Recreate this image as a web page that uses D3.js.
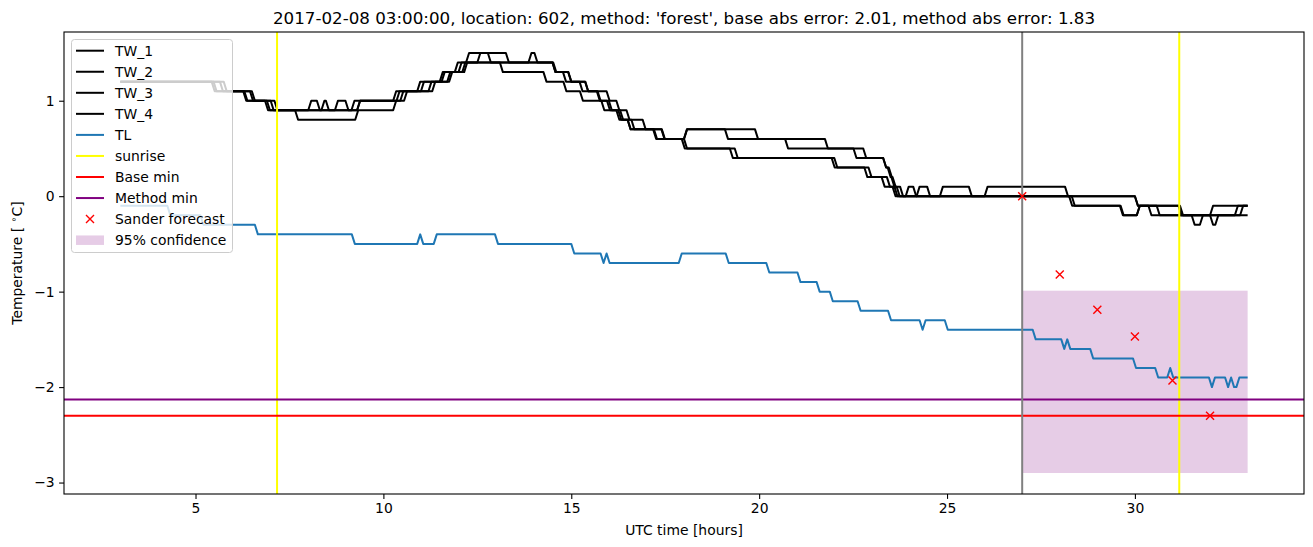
<!DOCTYPE html>
<html><head><meta charset="utf-8">
<script src="https://cdn.jsdelivr.net/npm/d3@7"></script>
<style>body{margin:0;background:#fff;} svg{display:block;font-family:"DejaVu Sans",sans-serif;}</style>
</head><body><svg id="c" width="1313" height="547"></svg>
<script>
// ---- data ----
const titleText = "2017-02-08 03:00:00, location: 602, method: 'forest', base abs error: 2.01, method abs error: 1.83";
const xTicks = [5, 10, 15, 20, 25, 30];
const yTicks = [-3, -2, -1, 0, 1];
// step runs: [start hour, end hour, value]
const tw1Steps = [[3.0,5.43,1.2],[5.51,6.27,1.1],[6.35,6.85,1.0],[6.93,8.0,0.9],[8.08,8.23,1.0],[8.31,9.15,0.9],[9.23,10.26,1.0],[10.34,10.9,1.1],[10.98,11.5,1.2],[11.58,11.9,1.3],[11.98,12.2,1.4],[12.28,12.78,1.5],[12.86,13.86,1.4],[13.94,14.02,1.5],[14.1,14.5,1.4],[14.58,14.78,1.3],[14.86,15.22,1.2],[15.3,15.68,1.1],[15.76,15.95,1.0],[16.03,16.2,0.9],[16.28,16.5,0.8],[16.58,17.18,0.7],[17.26,18.0,0.6],[18.08,19.89,0.7],[19.97,21.75,0.6],[21.83,22.77,0.5],[22.85,23.3,0.4],[23.38,23.42,0.3],[23.5,23.52,0.2],[23.6,23.75,0.1],[23.83,26.0,0.0],[26.08,28.14,0.1],[28.22,30.0,0.0],[30.08,30.58,-0.1],[30.66,31.51,-0.2],[31.59,31.73,-0.3],[31.81,32.66,-0.2],[32.74,33.0,-0.1]];
const tw2Steps = [[3.0,5.48,1.2],[5.56,6.3,1.1],[6.38,6.9,1.0],[6.98,8.35,0.9],[8.43,8.47,1.0],[8.55,8.71,0.9],[8.79,8.99,1.0],[9.07,9.3,0.9],[9.38,10.35,1.0],[10.43,11.0,1.1],[11.08,11.55,1.2],[11.63,12.0,1.3],[12.08,12.5,1.4],[12.58,13.26,1.5],[13.34,14.52,1.4],[14.6,14.92,1.3],[15.0,15.37,1.2],[15.45,15.7,1.1],[15.78,16.0,1.0],[16.08,16.3,0.9],[16.38,16.6,0.8],[16.68,17.4,0.7],[17.48,18.0,0.6],[18.08,19.09,0.7],[19.17,20.69,0.6],[20.77,22.51,0.5],[22.59,23.3,0.4],[23.38,23.45,0.3],[23.53,23.55,0.2],[23.63,23.66,0.1],[23.74,24.81,0.0],[24.89,25.58,0.1],[25.66,28.25,0.0],[28.33,29.6,-0.1],[29.68,30.05,-0.2],[30.13,31.16,-0.1],[31.24,32.0,-0.2],[32.08,33.0,-0.1]];
const tw3Steps = [[3.0,5.65,1.2],[5.73,6.45,1.1],[6.53,7.0,1.0],[7.08,9.3,0.9],[9.38,10.45,1.0],[10.53,11.2,1.1],[11.28,11.7,1.2],[11.78,12.1,1.3],[12.18,13.1,1.4],[13.18,14.26,1.3],[14.34,14.79,1.2],[14.87,15.23,1.1],[15.31,15.8,1.0],[15.88,16.25,0.9],[16.33,16.5,0.8],[16.58,17.2,0.7],[17.28,17.94,0.6],[18.02,19.22,0.5],[19.3,21.93,0.4],[22.01,22.8,0.3],[22.88,23.26,0.2],[23.34,23.55,0.1],[23.63,23.9,0.0],[23.98,24.1,0.1],[24.18,28.32,0.0],[28.4,29.62,-0.1],[29.7,30.05,-0.2],[30.13,30.36,-0.1],[30.44,32.0,-0.2],[32.08,32.14,-0.3],[32.22,32.8,-0.2],[32.88,33.0,-0.1]];
const tw4Steps = [[3.0,5.75,1.2],[5.83,6.5,1.1],[6.58,7.1,1.0],[7.18,7.65,0.9],[7.73,9.25,0.8],[9.33,10.26,0.9],[10.34,10.55,1.0],[10.63,11.3,1.1],[11.38,11.75,1.2],[11.83,12.15,1.3],[12.23,14.5,1.4],[14.58,14.92,1.3],[15.0,15.37,1.2],[15.45,15.94,1.1],[16.02,16.2,1.0],[16.28,16.47,0.9],[16.55,16.9,0.8],[16.98,17.41,0.7],[17.49,18.0,0.6],[18.08,19.35,0.5],[19.43,22.0,0.4],[22.08,22.91,0.3],[22.99,23.4,0.2],[23.48,23.6,0.1],[23.68,24.19,0.0],[24.27,24.47,0.1],[24.55,30.0,0.0],[30.08,31.2,-0.1],[31.28,33.0,-0.2]];
const tlSteps = [[3.0,4.25,-0.1],[4.33,5.13,-0.2],[5.21,6.58,-0.3],[6.66,9.16,-0.4],[9.24,10.9,-0.5],[10.98,10.98,-0.4],[11.06,11.34,-0.5],[11.42,12.97,-0.4],[13.05,15.0,-0.5],[15.08,15.78,-0.6],[15.86,15.86,-0.7],[15.94,15.94,-0.6],[16.02,17.86,-0.7],[17.94,19.11,-0.6],[19.19,20.19,-0.7],[20.27,21.02,-0.8],[21.1,21.53,-0.9],[21.61,21.88,-1.0],[21.96,22.62,-1.1],[22.7,23.43,-1.2],[23.51,24.27,-1.3],[24.35,24.35,-1.4],[24.43,24.94,-1.3],[25.02,27.28,-1.4],[27.36,28.04,-1.5],[28.12,28.12,-1.6],[28.2,28.2,-1.5],[28.28,28.81,-1.6],[28.89,29.95,-1.7],[30.03,30.54,-1.8],[30.62,30.86,-1.9],[30.94,30.94,-1.8],[31.02,31.97,-1.9],[32.05,32.05,-2.0],[32.13,32.4,-1.9],[32.48,32.48,-2.0],[32.56,32.56,-1.9],[32.64,32.7,-2.0],[32.78,33.0,-1.9]];
const sunriseHours = [7.17, 31.18];
const forecastStart = 27.0;
const baseMin = -2.30;
const methodMin = -2.13;
const forecastHours = [27, 28, 29, 30, 31, 32];
const forecastValues = [0.0, -0.82, -1.19, -1.47, -1.93, -2.30];
const confidence = {x0: 27.0, x1: 33.0, lo: -2.9, hi: -0.99};
const legendLabels = ["TW_1","TW_2","TW_3","TW_4","TL","sunrise","Base min","Method min","Sander forecast","95% confidence"];

// ---- layout ----
const L = 64, R = 1304, T = 32, B = 494;
const x = d3.scaleLinear().domain([1.5, 34.5]).range([L, R]);
const y = d3.scaleLinear().domain([-3.12, 1.72]).range([B, T]);
const svg = d3.select("#c");
const toPts = steps => steps.flatMap(([s, e, v]) => s === e ? [[s, v]] : [[s, v], [e, v]]);
const line = d3.line().x(d => x(d[0])).y(d => y(d[1]));

svg.append("defs").append("clipPath").attr("id", "clip").append("rect")
  .attr("x", L).attr("y", T).attr("width", R - L).attr("height", B - T);
const g = svg.append("g").attr("clip-path", "url(#clip)");

// confidence patch
g.append("rect").attr("x", x(confidence.x0)).attr("width", x(confidence.x1) - x(confidence.x0))
  .attr("y", y(confidence.hi)).attr("height", y(confidence.lo) - y(confidence.hi))
  .attr("fill", "purple").attr("fill-opacity", 0.2);

const TW = [tw1Steps, tw2Steps, tw3Steps, tw4Steps];
TW.forEach(s => g.append("path").attr("d", line(toPts(s))).attr("fill", "none")
  .attr("stroke", "#000").attr("stroke-width", 2).attr("stroke-linejoin", "round"));
g.append("path").attr("d", line(toPts(tlSteps))).attr("fill", "none")
  .attr("stroke", "#1f77b4").attr("stroke-width", 2).attr("stroke-linejoin", "round");

sunriseHours.forEach(h => g.append("line").attr("x1", x(h)).attr("x2", x(h)).attr("y1", T).attr("y2", B)
  .attr("stroke", "yellow").attr("stroke-width", 2));
g.append("line").attr("x1", L).attr("x2", R).attr("y1", y(baseMin)).attr("y2", y(baseMin)).attr("stroke", "red").attr("stroke-width", 2);
g.append("line").attr("x1", L).attr("x2", R).attr("y1", y(methodMin)).attr("y2", y(methodMin)).attr("stroke", "purple").attr("stroke-width", 2);
g.append("line").attr("x1", x(forecastStart)).attr("x2", x(forecastStart)).attr("y1", T).attr("y2", B)
  .attr("stroke", "grey").attr("stroke-width", 2);

// forecast markers
const ms = 4;
forecastHours.forEach((h, i) => {
  const cx = x(h), cy = y(forecastValues[i]);
  g.append("path").attr("d", `M${cx-ms},${cy-ms}L${cx+ms},${cy+ms}M${cx-ms},${cy+ms}L${cx+ms},${cy-ms}`)
    .attr("stroke", "red").attr("stroke-width", 1.4);
});

// axes
const xa = svg.append("g").attr("transform", `translate(0,${B})`)
  .call(d3.axisBottom(x).tickValues(xTicks).tickSize(4.9).tickPadding(4.5).tickFormat(d3.format("d")));
const ya = svg.append("g").attr("transform", `translate(${L},0)`)
  .call(d3.axisLeft(y).tickValues(yTicks).tickSize(4.9).tickPadding(4.5).tickFormat(d => d < 0 ? "\u2212" + Math.abs(d) : d));
[xa, ya].forEach(a => {
  a.select(".domain").remove();
  a.selectAll("line").attr("stroke", "#000").attr("stroke-width", 1.1);
  a.selectAll("text").attr("font-size", 13.9).attr("fill", "#000").attr("font-family", "DejaVu Sans");
});
svg.append("rect").attr("x", L).attr("y", T).attr("width", R - L).attr("height", B - T)
  .attr("fill", "none").attr("stroke", "#000").attr("stroke-width", 1.1);

// labels
svg.append("text").attr("x", (L + R) / 2).attr("y", 24).attr("text-anchor", "middle")
  .attr("font-size", 16.7).text(titleText);
svg.append("text").attr("x", (L + R) / 2).attr("y", 535).attr("text-anchor", "middle")
  .attr("font-size", 13.9).text("UTC time [hours]");
const yl = svg.append("text").attr("transform", `translate(22,${(T + B) / 2}) rotate(-90)`)
  .attr("text-anchor", "middle").attr("font-size", 13.9);
yl.append("tspan").text("Temperature [ ");
yl.append("tspan").attr("dy", -5).attr("font-size", 9.7).text("\u2218");
yl.append("tspan").attr("dy", 5).text("C]");

// legend
const lg = svg.append("g");
lg.append("rect").attr("x", 71.5).attr("y", 39.5).attr("width", 161).attr("height", 213).attr("rx", 3)
  .attr("fill", "#fff").attr("fill-opacity", 0.8).attr("stroke", "#cccccc").attr("stroke-width", 1);
const colors = ["#000","#000","#000","#000","#1f77b4","yellow","red","purple",null,null];
legendLabels.forEach((lab, i) => {
  const cy = 50.7 + i * 21.05;
  if (i === 8) {
    lg.append("path").attr("d", `M${90-ms},${cy-ms}L${90+ms},${cy+ms}M${90-ms},${cy+ms}L${90+ms},${cy-ms}`)
      .attr("stroke", "red").attr("stroke-width", 1.4);
  } else if (i === 9) {
    lg.append("rect").attr("x", 76).attr("y", cy - 4.7).attr("width", 28).attr("height", 9.5)
      .attr("fill", "purple").attr("fill-opacity", 0.2);
  } else {
    lg.append("line").attr("x1", 76).attr("x2", 104).attr("y1", cy).attr("y2", cy)
      .attr("stroke", colors[i]).attr("stroke-width", 2);
  }
  lg.append("text").attr("x", 115).attr("y", cy + 4.8).attr("font-size", 13.9).text(lab);
});
</script></body></html>
